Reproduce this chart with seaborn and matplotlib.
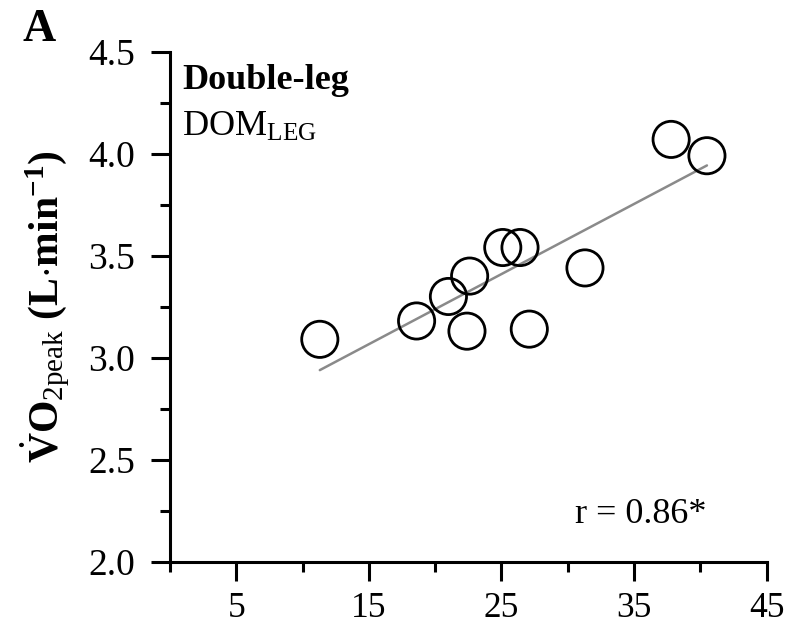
import matplotlib
matplotlib.use("Agg")
import matplotlib.pyplot as plt
from matplotlib.ticker import FixedLocator
import seaborn as sns
import pandas as pd

# Peak oxygen uptake vs. predictor, double-leg test (dominant leg)
x_values = [11.3, 18.6, 21.0, 22.6, 22.4, 25.1, 26.4, 27.1, 31.3, 37.8, 40.5]
vo2_peak = [3.09, 3.18, 3.30, 3.40, 3.13, 3.54, 3.54, 3.14, 3.44, 4.07, 3.99]

x_major = [5, 15, 25, 35, 45]
x_minor = [0, 10, 20, 30, 40]
y_major = [2.0, 2.5, 3.0, 3.5, 4.0, 4.5]
y_minor = [2.25, 2.75, 3.25, 3.75, 4.25]
y_labels = ["2.0", "2.5", "3.0", "3.5", "4.0", "4.5"]

panel_label = "A"
title_text = "Double-leg"
r_text = "r = 0.86*"

df = pd.DataFrame({"x": x_values, "vo2": vo2_peak})

sns.set_theme(style="ticks")
plt.rcParams["font.family"] = ["Liberation Serif", "DejaVu Serif"]
plt.rcParams["mathtext.fontset"] = "custom"
plt.rcParams["mathtext.rm"] = "Liberation Serif"
plt.rcParams["mathtext.it"] = "Liberation Serif:italic"
plt.rcParams["mathtext.bf"] = "Liberation Serif:bold"

fig = plt.figure(figsize=(7.86, 6.28), dpi=100)
ax = fig.add_axes([0.2163, 0.1056, 0.7590, 0.8121])

sns.regplot(data=df, x="x", y="vo2", scatter=False, ci=None, ax=ax,
            line_kws={"color": "#8a8a8a", "linewidth": 1.8})
sns.scatterplot(data=df, x="x", y="vo2", ax=ax, s=680, marker="o",
                facecolor="none", edgecolor="black", linewidth=2.0,
                zorder=3, clip_on=False)

ax.set_xlim(0, 45)
ax.set_ylim(2.0, 4.5)
ax.xaxis.set_major_locator(FixedLocator(x_major))
ax.xaxis.set_minor_locator(FixedLocator(x_minor))
ax.yaxis.set_major_locator(FixedLocator(y_major))
ax.yaxis.set_minor_locator(FixedLocator(y_minor))
ax.set_xticklabels([str(v) for v in x_major])
ax.set_yticklabels(y_labels)

for side in ("top", "right"):
    ax.spines[side].set_visible(False)
for side in ("left", "bottom"):
    ax.spines[side].set_linewidth(2.2)
    ax.spines[side].set_color("black")

ax.tick_params(axis="both", which="major", direction="out", length=14,
               width=2.2, color="black", labelcolor="black")
ax.tick_params(axis="y", which="major", pad=11, labelsize=27)
ax.tick_params(axis="x", which="major", pad=8, labelsize=25.5)
ax.tick_params(axis="both", which="minor", direction="out", length=7.5,
               width=2.2, color="black")

ax.set_xlabel("")
ax.set_ylabel(r"$\dot{\mathbf{V}}\mathbf{O}_{\mathrm{2peak}}$ $\mathbf{(L{\cdot}min^{-1})}$",
              fontsize=30, labelpad=12, color="black")

fig.text(0.028, 0.985, panel_label, fontsize=33, fontweight="bold",
         va="top", ha="left", color="black")
ax.text(0.02, 0.975, title_text, transform=ax.transAxes, fontsize=26,
        fontweight="bold", va="top", ha="left", color="black")
ax.text(0.02, 0.885, r"DOM$_{\mathrm{LEG}}$", transform=ax.transAxes,
        fontsize=26, va="top", ha="left", color="black")
ax.text(0.90, 0.06, r_text, transform=ax.transAxes, fontsize=26,
        va="bottom", ha="right", color="black")

fig.savefig("out.png", dpi=100, facecolor="white")
